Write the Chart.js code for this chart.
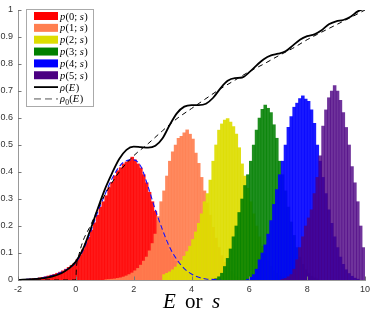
<!DOCTYPE html>
<html><head><meta charset="utf-8">
<script src="https://cdn.jsdelivr.net/npm/chart.js@4.4.1/dist/chart.umd.min.js"></script>
<style>html,body{margin:0;padding:0;background:#fff;}</style>
</head><body>
<canvas id="c" width="373" height="315" style="width:373px;height:315px;display:block"></canvas>
<script>
// ---------------- data ----------------
const binWidth = 0.1;
const xTicks = [-2, 0, 2, 4, 6, 8, 10];
const yTicks = [0, 0.1, 0.2, 0.3, 0.4, 0.5, 0.6, 0.7, 0.8, 0.9, 1];
const seriesLabels = ['0', '1', '2', '3', '4', '5'];

// histogram p(0;s): first bin centre and values (bin width 0.1)
const p0Start = -1.95;
const p0 = [0.001,0.002,0.002,0.003,0.004,0.005,0.006,0.008,0.010,0.012,
            0.015,0.018,0.021,0.025,0.029,0.034,0.040,0.047,0.054,0.062,
            0.075,0.092,0.112,0.135,0.158,0.185,0.212,0.240,0.270,0.290,
            0.312,0.342,0.362,0.386,0.405,0.416,0.430,0.437,0.443,0.455,
            0.445,0.430,0.415,0.390,0.360,0.325,0.290,0.255,0.220,0.190,
            0.160,0.132,0.108,0.087,0.070,0.055,0.042,0.032,0.024,0.017,
            0.012,0.008,0.005,0.003,0.002];
const p1Start = 1.05;
const p1 = [0.001,0.002,0.003,0.004,0.006,0.008,0.011,0.015,0.020,0.026,
            0.034,0.043,0.055,0.070,0.085,0.108,0.135,0.170,0.235,0.290,
            0.330,0.385,0.440,0.475,0.500,0.525,0.532,0.545,0.556,0.540,
            0.522,0.470,0.432,0.380,0.330,0.285,0.240,0.195,0.155,0.120,
            0.090,0.066,0.047,0.033,0.022,0.014,0.009,0.005,0.003];
const p2Start = 3.05;
const p2 = [0.020,0.025,0.030,0.038,0.048,0.060,0.072,0.088,0.105,0.125,
            0.150,0.178,0.210,0.245,0.290,0.320,0.370,0.440,0.500,0.555,
            0.578,0.592,0.598,0.585,0.568,0.540,0.490,0.430,0.385,0.340,
            0.290,0.245,0.200,0.160,0.125,0.095,0.070,0.050,0.035,0.024,
            0.015,0.009,0.005,0.002];
const p3Start = 4.85;
const p3 = [0.005,0.012,0.025,0.050,0.080,0.115,0.160,0.200,0.250,0.300,
            0.350,0.390,0.440,0.500,0.555,0.600,0.632,0.648,0.636,0.620,
            0.575,0.525,0.440,0.390,0.330,0.270,0.215,0.165,0.120,0.085,
            0.058,0.038,0.024,0.014,0.008,0.004];
const p4Start = 5.95;
const p4 = [0.003,0.010,0.020,0.040,0.075,0.100,0.130,0.170,0.220,0.280,
            0.335,0.390,0.440,0.500,0.565,0.605,0.640,0.655,0.672,0.682,
            0.670,0.662,0.630,0.580,0.500,0.440,0.380,0.320,0.260,0.210,
            0.160,0.120,0.085,0.058,0.038,0.024,0.014,0.007,0.003];
const p5Start = 7.15;
const p5 = [0.003,0.006,0.012,0.020,0.040,0.075,0.120,0.160,0.200,0.230,
            0.260,0.320,0.380,0.460,0.570,0.630,0.675,0.700,0.720,0.700,
            0.665,0.620,0.565,0.500,0.420,0.360,0.290,0.200,0.120];

// rho(E) solid curve
const rhoX = [-2,-1.5,-1,-0.75,-0.5,-0.25,0,0.25,0.5,0.75,1,1.25,1.5,1.75,2,2.25,2.5,2.75,3,3.25,3.5,3.75,
              4,4.25,4.5,4.75,5,5.25,5.5,5.75,6,6.25,6.5,6.75,7,7.25,7.5,7.75,8,8.25,8.5,8.75,
              9,9.25,9.5,9.75,10];
const rho  = [0,0.003,0.009,0.015,0.025,0.042,0.068,0.115,0.185,0.262,0.335,0.395,0.448,0.482,0.494,0.492,0.49,0.497,0.525,0.575,0.618,0.642,
              0.648,0.648,0.653,0.675,0.71,0.738,0.748,0.75,0.77,0.795,0.818,0.832,0.838,0.847,0.868,0.89,0.903,0.91,0.925,0.947,
              0.958,0.963,0.975,0.995,1.005];
// rho0(E) dashed curve
const rho0X = [-2,0,0.02,0.1,0.25,0.5,0.75,1,1.5,2,2.5,3,3.5,4,4.5,5,5.5,6,6.5,7,7.5,8,8.5,9,9.5,10];
const rho0  = [0,0,0.045,0.09,0.145,0.2,0.26,0.315,0.4,0.46,0.505,0.553,0.598,0.635,0.672,0.708,0.74,0.772,0.8,0.83,0.858,0.89,0.918,0.945,0.972,1.0];
// blue dashed fit over p(0;s)
const fitX = [-2,-1.5,-1,-0.5,0,0.25,0.5,0.75,1,1.25,1.5,1.75,2,2.25,2.5,2.75,3,3.25,3.5,3.75,4,4.25,4.5,5];
const fit  = [0.001,0.004,0.012,0.03,0.065,0.11,0.175,0.25,0.315,0.375,0.42,0.442,0.445,0.42,0.345,0.26,0.185,0.12,0.075,0.042,0.022,0.01,0.004,0.001];

// ---------------- styling ----------------
const barColors = ['rgba(255,0,0,0.9)','rgba(255,127,80,0.92)','rgba(221,221,0,0.92)',
                   'rgba(0,128,0,0.88)','rgba(0,0,255,0.9)','rgba(75,0,130,0.8)'];
const swatchColors = ['#ff0000','#ff7f50','#dddd00','#008000','#0000ff','#4b0082'];

function bars(start, vals) {
  return vals.map((v, i) => ({ x: Math.round((start + i * binWidth) * 100) / 100, y: v }));
}
function pts(xs, ys) { return xs.map((x, i) => ({ x: x, y: ys[i] })); }

const starts = [p0Start, p1Start, p2Start, p3Start, p4Start, p5Start];
const series = [p0, p1, p2, p3, p4, p5];

const datasets = [
  { type: 'line', data: pts(rhoX, rho), borderColor: '#000', borderWidth: 1.8, pointRadius: 0,
    cubicInterpolationMode: 'monotone', fill: false, order: 0 },
  { type: 'line', data: pts(rho0X, rho0), borderColor: '#000', borderWidth: 1, borderDash: [5, 4],
    pointRadius: 0, cubicInterpolationMode: 'monotone', fill: false, order: 0 },
  { type: 'line', data: pts(fitX, fit), borderColor: '#1010ff', borderWidth: 1.1, borderDash: [5, 3],
    pointRadius: 0, cubicInterpolationMode: 'monotone', fill: false, order: 0 }
];
series.forEach((vals, k) => {
  datasets.push({ type: 'bar', data: bars(starts[k], vals), backgroundColor: barColors[k],
    borderWidth: 0, order: 6 - k });
});

const SERIF = '"Liberation Serif", "DejaVu Serif", serif';
function drawSegs(ctx, x, y, segs) {
  for (const s of segs) {
    ctx.font = s[1];
    ctx.fillText(s[0], x, y + (s[2] || 0));
    x += ctx.measureText(s[0]).width + (s[3] || 0);
  }
  return x;
}

const decor = {
  id: 'decor',
  afterDraw(chart) {
    const ctx = chart.ctx, xs = chart.scales.x, ys = chart.scales.y;
    const a = chart.chartArea;
    ctx.save();
    // inward tick marks
    ctx.strokeStyle = '#777'; ctx.lineWidth = 1;
    ctx.beginPath();
    yTicks.forEach(v => { const py = Math.round(ys.getPixelForValue(v)) + 0.5; ctx.moveTo(a.left, py); ctx.lineTo(a.left + 3.5, py); });
    xTicks.forEach(v => { const px = Math.round(xs.getPixelForValue(v)) + 0.5; ctx.moveTo(px, a.bottom); ctx.lineTo(px, a.bottom - 3.5); });
    ctx.stroke();

    // legend box
    ctx.fillStyle = '#fff';
    ctx.fillRect(26.5, 9.5, 67, 97);
    ctx.strokeStyle = '#aaaaaa'; ctx.lineWidth = 1;
    ctx.strokeRect(26.5, 9.5, 67, 97);
    const it = 'italic 10.5px ' + SERIF, rm = '10.5px ' + SERIF;
    const rowY0 = 16, rowH = 11.85;
    ctx.textBaseline = 'alphabetic'; ctx.textAlign = 'left';
    for (let k = 0; k < 6; k++) {
      const cy = rowY0 + k * rowH;
      ctx.fillStyle = swatchColors[k];
      ctx.fillRect(34, cy - 4, 24, 8);
      ctx.fillStyle = '#000';
      drawSegs(ctx, 60, cy + 3.5, [['p', it, 0, 0.3], ['(' + seriesLabels[k] + '; ', rm], ['s', it, 0, 0.3], [')', rm]]);
    }
    let cy = rowY0 + 6 * rowH;
    ctx.strokeStyle = '#000'; ctx.lineWidth = 1.8; ctx.setLineDash([]);
    ctx.beginPath(); ctx.moveTo(34, cy); ctx.lineTo(58, cy); ctx.stroke();
    ctx.fillStyle = '#000';
    drawSegs(ctx, 60, cy + 3.5, [['ρ', it, 0, 0.3], ['(', rm], ['E', it, 0, 0.5], [')', rm]]);
    cy = rowY0 + 7 * rowH;
    ctx.strokeStyle = '#555'; ctx.lineWidth = 1; ctx.setLineDash([7, 4]);
    ctx.beginPath(); ctx.moveTo(34, cy); ctx.lineTo(58, cy); ctx.stroke();
    ctx.setLineDash([]);
    drawSegs(ctx, 60, cy + 3.5, [['ρ', it, 0, 0.2], ['0', '7.5px ' + SERIF, 2.5, 0.3], ['(', rm], ['E', it, 0, 0.5], [')', rm]]);

    // x axis label
    ctx.fillStyle = '#000';
    ctx.font = 'italic 21px ' + SERIF; ctx.fillText('E', 163, 308);
    ctx.font = '21px ' + SERIF; ctx.fillText('or', 185, 308);
    ctx.font = 'italic 21px ' + SERIF; ctx.fillText('s', 212, 308);
    ctx.restore();
  }
};

new Chart(document.getElementById('c'), {
  type: 'bar',
  data: { datasets: datasets },
  plugins: [decor],
  options: {
    responsive: false, animation: false, devicePixelRatio: 1,
    layout: { padding: { left: 0, right: 8, top: 10, bottom: 0 } },
    plugins: { legend: { display: false }, tooltip: { enabled: false } },
    datasets: { bar: { grouped: false, barPercentage: 1, categoryPercentage: 1 } },
    scales: {
      x: {
        type: 'linear', min: -2, max: 10, offset: false,
        grid: { display: false, drawTicks: false },
        border: { display: true, color: '#999', width: 1 },
        ticks: { stepSize: 2, padding: 4, color: '#333', maxRotation: 0, autoSkip: false,
                 font: { family: '"Liberation Sans", Arial, sans-serif', size: 9 } },
        afterBuildTicks(s) { s.ticks = xTicks.map(v => ({ value: v })); },
        afterFit(s) { s.height = 35; s.paddingLeft = 0; s.paddingRight = 0; }
      },
      y: {
        type: 'linear', min: 0, max: 1,
        grid: { display: false, drawTicks: false },
        border: { display: true, color: '#999', width: 1 },
        ticks: { padding: 5, color: '#333',
                 font: { family: '"Liberation Sans", Arial, sans-serif', size: 9 },
                 callback: v => String(Math.round(v * 10) / 10) },
        afterBuildTicks(s) { s.ticks = yTicks.map(v => ({ value: v })); },
        afterFit(s) { s.width = 18; s.paddingTop = 0; s.paddingBottom = 0; }
      }
    }
  }
});
</script>
</body></html>
